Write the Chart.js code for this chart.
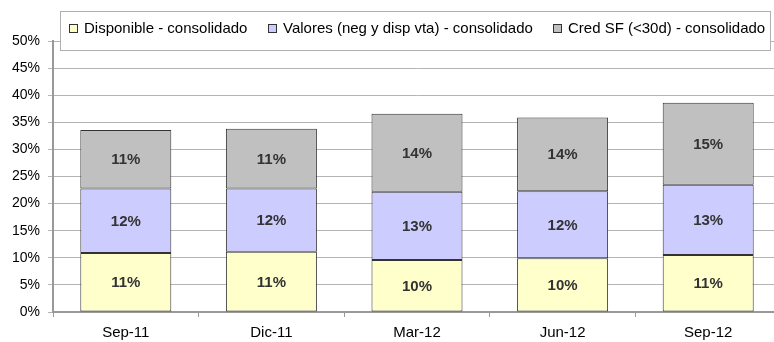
<!DOCTYPE html>
<html>
<head>
<meta charset="utf-8">
<script src="https://cdn.jsdelivr.net/npm/chart.js@4"></script>
<style>
  html, body { margin: 0; padding: 0; background: #fff; overflow: hidden; }
  #wrap { width: 791px; height: 342px; }
</style>
</head>
<body>
<div id="wrap"><canvas id="liquidez" width="791" height="342"></canvas></div>
<script>
/***************************************
 * Data
 ***************************************/
const periods = ['Sep-11', 'Dic-11', 'Mar-12', 'Jun-12', 'Sep-12'];
const disponible = [10.9, 11.1, 9.6, 9.9, 10.5];
const valores = [11.9, 11.7, 12.6, 12.4, 13.0];
const credSF = [10.8, 11.0, 14.4, 13.6, 15.1];
const yTicks = [0, 5, 10, 15, 20, 25, 30, 35, 40, 45, 50];

const FONT = '"Liberation Sans", Arial, sans-serif';
const legendX = [69, 268, 553]; // left edge of each legend swatch

// Legend drawn as a box over the top of the plot area
const boxLegend = {
  id: 'boxLegend',
  afterDraw(chart) {
    const ctx = chart.ctx;
    ctx.save();
    ctx.fillStyle = '#fff';
    ctx.fillRect(60.5, 11.5, 710, 39);
    ctx.strokeStyle = '#b0b0b0';
    ctx.lineWidth = 1;
    ctx.strokeRect(60.5, 11.5, 710, 39);
    ctx.font = '15px ' + FONT;
    ctx.textBaseline = 'middle';
    chart.data.datasets.forEach((ds, i) => {
      const x = legendX[i];
      ctx.fillStyle = ds.backgroundColor;
      ctx.fillRect(x + 0.5, 24.5, 8, 8);
      ctx.strokeStyle = '#333';
      ctx.strokeRect(x + 0.5, 24.5, 8, 8);
      ctx.fillStyle = '#000';
      ctx.fillText(ds.label, x + 15, 29);
    });
    ctx.restore();
  }
};

// Percentage labels centred inside each segment
const segmentLabels = {
  id: 'segmentLabels',
  afterDatasetsDraw(chart) {
    const ctx = chart.ctx;
    ctx.save();
    ctx.font = 'bold 15px ' + FONT;
    ctx.fillStyle = '#333';
    ctx.textAlign = 'center';
    ctx.textBaseline = 'middle';
    chart.data.datasets.forEach((ds, i) => {
      chart.getDatasetMeta(i).data.forEach((bar, j) => {
        ctx.fillText(Math.round(ds.data[j]) + '%', bar.x, (bar.y + bar.base) / 2 + 1);
      });
    });
    ctx.restore();
  }
};

const segment = {
  borderColor: '#333',
  borderWidth: 1,
  borderSkipped: false,
  barPercentage: 0.625,
  categoryPercentage: 1
};

new Chart(document.getElementById('liquidez'), {
  type: 'bar',
  data: {
    labels: periods,
    datasets: [
      Object.assign({ label: 'Disponible - consolidado', data: disponible, backgroundColor: '#ffffcc' }, segment),
      Object.assign({ label: 'Valores (neg y disp vta) - consolidado', data: valores, backgroundColor: '#ccccff' }, segment),
      Object.assign({ label: 'Cred SF (<30d) - consolidado', data: credSF, backgroundColor: '#c0c0c0' }, segment)
    ]
  },
  options: {
    responsive: false,
    animation: false,
    layout: { padding: { top: 41, right: 10, left: 0, bottom: 0 } },
    plugins: {
      legend: { display: false },
      tooltip: { enabled: false }
    },
    scales: {
      x: {
        stacked: true,
        grid: { drawOnChartArea: false, tickLength: 5, color: '#999', offset: true },
        border: { color: '#999', width: 2 },
        ticks: { color: '#000', padding: 7, font: { family: FONT, size: 15 } },
        afterFit(scale) { scale.height = 30; }
      },
      y: {
        stacked: true,
        min: 0,
        max: 50,
        afterBuildTicks(scale) { scale.ticks = yTicks.map(v => ({ value: v })); },
        grid: { color: '#b4b4b4', tickLength: 5 },
        border: { color: '#999', width: 2 },
        ticks: {
          color: '#000',
          padding: 8,
          font: { family: FONT, size: 14 },
          callback: v => v + '%'
        },
        afterFit(scale) { scale.width = 53; }
      }
    }
  },
  plugins: [segmentLabels, boxLegend]
});
</script>
</body>
</html>
